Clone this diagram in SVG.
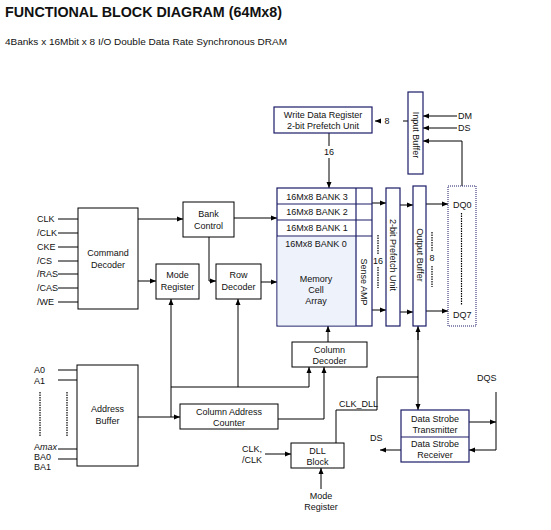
<svg xmlns="http://www.w3.org/2000/svg" width="551" height="530" viewBox="0 0 551 530">
<style>
.bk{fill:#fff;stroke:#000;stroke-width:1}
.nv{fill:#fff;stroke:#1c1c68;stroke-width:1.2}
.ln{fill:none;stroke:#000;stroke-width:1}
.ar{fill:none;stroke:#000;stroke-width:1;marker-end:url(#ah)}
.dt{fill:none;stroke:#000;stroke-width:1.2;stroke-dasharray:1.5 1}
text{font-family:"Liberation Sans",Arial,sans-serif;font-size:9px;fill:#111}
.c{text-anchor:middle}
</style>
<defs>
<marker id="ah" markerUnits="userSpaceOnUse" markerWidth="6" markerHeight="6" refX="6" refY="3" orient="auto">
<path d="M0,0.5 L6,3 L0,5.5 z" fill="#000"/>
</marker>
</defs>
<rect width="551" height="530" fill="#fff"/>
<text x="5" y="17" style="font-size:15px;font-weight:bold" textLength="277" lengthAdjust="spacingAndGlyphs">FUNCTIONAL BLOCK DIAGRAM (64Mx8)</text>
<text x="5" y="45" style="font-size:9.5px" textLength="282" lengthAdjust="spacingAndGlyphs">4Banks x 16Mbit x 8 I/O Double Data Rate Synchronous DRAM</text>

<g id="connectors">
<!-- command inputs -->
<line class="ln" x1="58" y1="219" x2="78" y2="219"/>
<line class="ln" x1="58" y1="233" x2="78" y2="233"/>
<line class="ln" x1="58" y1="247" x2="78" y2="247"/>
<line class="ln" x1="58" y1="261" x2="78" y2="261"/>
<line class="ln" x1="58" y1="274" x2="78" y2="274"/>
<line class="ln" x1="58" y1="288" x2="78" y2="288"/>
<line class="ln" x1="58" y1="302" x2="78" y2="302"/>
<!-- cmd decoder outputs -->
<path class="ar" d="M138,219 H183"/>
<path class="ar" d="M138,281 H156"/>
<path class="ar" d="M234,218 H277"/>
<path class="ar" d="M209,237 V281 H216"/>
<path class="ar" d="M261,282 H277"/>
<!-- address -->
<line class="ln" x1="58" y1="370" x2="77" y2="370"/>
<line class="ln" x1="58" y1="380" x2="77" y2="380"/>
<line class="ln" x1="58" y1="449" x2="77" y2="449"/>
<line class="ln" x1="58" y1="459" x2="77" y2="459"/>
<line class="dt" x1="40" y1="392" x2="40" y2="437"/>
<line class="dt" x1="67" y1="392" x2="67" y2="437"/>
<path class="ar" d="M138,417 H180"/>
<path class="ar" d="M171,417 V299"/>
<path class="ln" d="M171,387 H309"/>
<path class="ar" d="M238,387 V299"/>
<path class="ar" d="M309,387 V367"/>
<path class="ar" d="M278,419 H324 V367"/>
<path class="ar" d="M328,342 V326"/>
<!-- write path -->
<path class="ln" d="M329,133 V146"/>
<path class="ar" d="M329,158 V188"/>
<path class="ar" d="M381,121 H375"/>
<line class="ln" x1="403" y1="121" x2="408" y2="121"/>
<path class="ar" d="M457,116 H423"/>
<path class="ar" d="M457,128 H423"/>
<path class="ar" d="M462,186 V141 H423"/>
<!-- read path -->
<path class="ar" d="M372,203 H386"/>
<path class="ar" d="M372,310 H386"/>
<path class="ar" d="M400,205 H413"/>
<path class="ar" d="M400,312 H413"/>
<path class="ar" d="M426,204 H448"/>
<path class="ar" d="M426,311 H448"/>
<line class="dt" x1="378" y1="235" x2="378" y2="255"/>
<line class="dt" x1="378" y1="267" x2="378" y2="288"/>
<line class="dt" x1="432" y1="232" x2="432" y2="251"/>
<line class="dt" x1="432" y1="266" x2="432" y2="287"/>
<line class="dt" x1="461.5" y1="213" x2="461.5" y2="305"/>
<!-- strobe / DLL -->
<path class="ar" d="M418,340 V326"/>
<path class="ar" d="M418,330 V410"/>
<path class="ln" d="M418,377 H377 V410 H336 V443"/>
<path class="ar" d="M469,422 H496"/>
<path class="ar" d="M496,392 V450 H469"/>
<path class="ar" d="M401,450 H380"/>
<path class="ar" d="M265,454 H291"/>
<path class="ar" d="M321,489 V468"/>
</g>

<g id="labels">
<text x="37" y="222">CLK</text>
<text x="37" y="236">/CLK</text>
<text x="37" y="250">CKE</text>
<text x="37" y="264">/CS</text>
<text x="37" y="277">/RAS</text>
<text x="37" y="291">/CAS</text>
<text x="37" y="305">/WE</text>
<text x="34" y="373">A0</text>
<text x="34" y="384">A1</text>
<text x="34" y="450">A<tspan font-style="italic">max</tspan></text>
<text x="34" y="460">BA0</text>
<text x="34" y="470">BA1</text>
<text x="329" y="155" class="c">16</text>
<text x="387" y="124" class="c">8</text>
<text x="458" y="119">DM</text>
<text x="458" y="131">DS</text>
<text x="378" y="264" class="c">16</text>
<text x="432" y="261" class="c">8</text>
<text x="453" y="208">DQ0</text>
<text x="453" y="318">DQ7</text>
<text x="339" y="407">CLK_DLL</text>
<text x="477" y="381">DQS</text>
<text x="370" y="441">DS</text>
<text x="262" y="452" text-anchor="end">CLK,</text>
<text x="262" y="463" text-anchor="end">/CLK</text>
<text x="321" y="499" class="c">Mode</text>
<text x="321" y="510" class="c">Register</text>
</g>

<g id="command-decoder">
<rect class="bk" x="78" y="208" width="60" height="101"/>
<text x="108" y="256" class="c">Command</text>
<text x="108" y="268" class="c">Decoder</text>
</g>
<g id="bank-control">
<rect class="bk" x="183" y="202" width="51" height="35"/>
<text x="208.5" y="217" class="c">Bank</text>
<text x="208.5" y="229" class="c">Control</text>
</g>
<g id="mode-register">
<rect class="bk" x="156" y="264" width="43" height="35"/>
<text x="177.5" y="278" class="c">Mode</text>
<text x="177.5" y="290" class="c">Register</text>
</g>
<g id="row-decoder">
<rect class="bk" x="216" y="264" width="45" height="35"/>
<text x="238.5" y="278" class="c">Row</text>
<text x="238.5" y="290" class="c">Decoder</text>
</g>
<g id="write-data-register">
<rect class="nv" x="274" y="107" width="98" height="26"/>
<text x="323" y="118" class="c">Write Data Register</text>
<text x="323" y="129" class="c">2-bit Prefetch Unit</text>
</g>
<g id="input-buffer">
<rect class="nv" x="408" y="92" width="15" height="82"/>
<text transform="translate(412.5,135) rotate(90)" class="c">Input Buffer</text>
</g>
<g id="memory">
<rect class="nv" x="277" y="188" width="95" height="138"/>
<rect x="277.6" y="236.6" width="78.8" height="88.8" fill="#eef2fb"/>
<line class="nv" x1="277" y1="204" x2="372" y2="204"/>
<line class="nv" x1="277" y1="220" x2="372" y2="220"/>
<line class="nv" x1="277" y1="236" x2="372" y2="236"/>
<line class="nv" x1="356" y1="188" x2="356" y2="326"/>
<text x="317" y="200" class="c">16Mx8 BANK 3</text>
<text x="317" y="215" class="c">16Mx8 BANK 2</text>
<text x="317" y="231" class="c">16Mx8 BANK 1</text>
<text x="316" y="247" class="c">16Mx8 BANK 0</text>
<text x="316" y="282" class="c">Memory</text>
<text x="316" y="293" class="c">Cell</text>
<text x="316" y="304" class="c">Array</text>
<text transform="translate(360.5,282) rotate(90)" class="c">Sense AMP</text>
</g>
<g id="prefetch-unit">
<rect class="nv" x="386" y="188" width="14" height="138"/>
<text transform="translate(390,255) rotate(90)" class="c">2-bit Prefetch Unit</text>
</g>
<g id="output-buffer">
<rect class="nv" x="413" y="186" width="13" height="140"/>
<text transform="translate(416.5,255) rotate(90)" class="c">Output Buffer</text>
</g>
<g id="dq-pins">
<rect x="448" y="186" width="28" height="140" fill="none" stroke="#1c1c68" stroke-width="1" stroke-dasharray="1 1"/>
</g>
<g id="address-buffer">
<rect class="bk" x="77" y="365" width="61" height="101"/>
<text x="107.5" y="412" class="c">Address</text>
<text x="107.5" y="424" class="c">Buffer</text>
</g>
<g id="column-address-counter">
<rect class="bk" x="180" y="404" width="98" height="25"/>
<text x="229" y="415" class="c">Column Address</text>
<text x="229" y="426" class="c">Counter</text>
</g>
<g id="column-decoder">
<rect class="bk" x="292" y="342" width="75" height="25"/>
<text x="329.5" y="353" class="c">Column</text>
<text x="329.5" y="364" class="c">Decoder</text>
</g>
<g id="dll-block">
<rect class="bk" x="291" y="443" width="53" height="25"/>
<text x="317.5" y="454" class="c">DLL</text>
<text x="317.5" y="465" class="c">Block</text>
</g>
<g id="data-strobe">
<rect class="nv" x="401" y="410" width="68" height="52"/>
<line class="nv" x1="401" y1="437" x2="469" y2="437"/>
<text x="435" y="422" class="c">Data Strobe</text>
<text x="435" y="433" class="c">Transmitter</text>
<text x="435" y="447" class="c">Data Strobe</text>
<text x="435" y="458" class="c">Receiver</text>
</g>
</svg>
